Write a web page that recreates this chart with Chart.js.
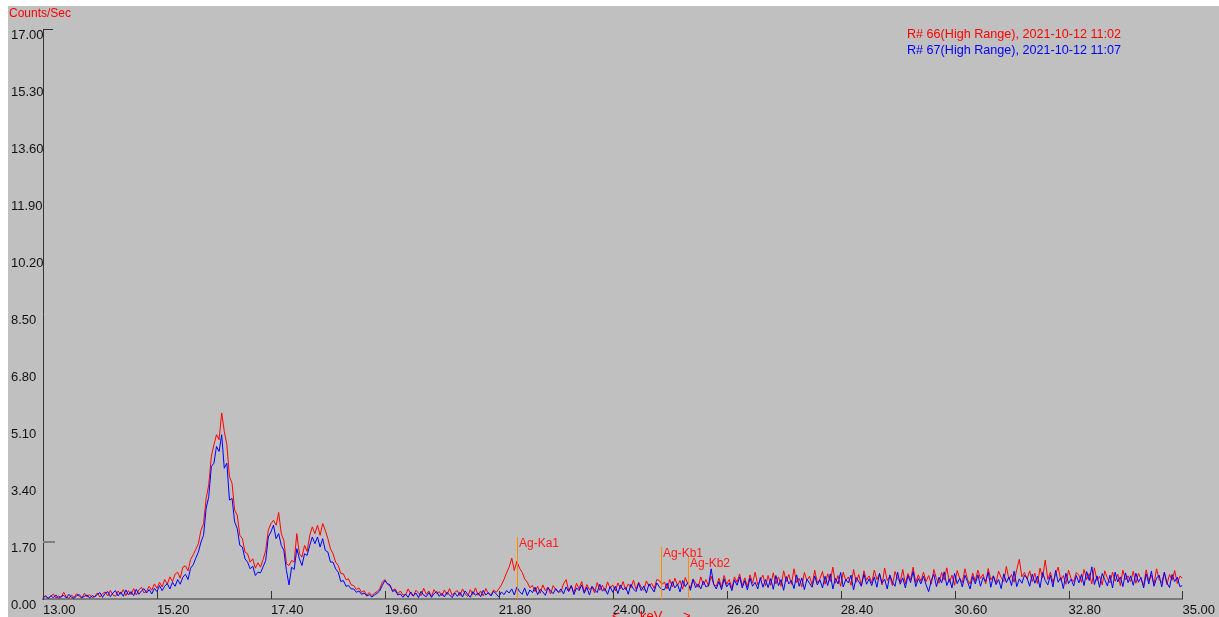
<!DOCTYPE html>
<html>
<head>
<meta charset="utf-8">
<title>XRF spectrum</title>
<script src="https://cdn.jsdelivr.net/npm/chart.js@4/dist/chart.umd.min.js"></script>
<style>
  html, body { margin: 0; padding: 0; background: #ffffff; }
  #wrap { width: 1219px; height: 617px; position: relative; }
  canvas { display: block; }
</style>
</head>
<body>
<div id="wrap"><canvas id="spec" width="1219" height="617"></canvas></div>
<script>
// Channel grid: first channel energy and channel width (keV)
const energyStart = 13.0;
const energyStep = 0.05;

// Run 66 counts/sec, one value per channel, 13.00 .. 35.00 keV
const run66 = [
  0.04,0.10,0.02,0.08,0.15,0.03,0.09,0.05,0.20,0.06,0.02,0.12,0.05,0.16,0.08,0.03,0.17,0.06,0.13,0.04,
  0.08,0.18,0.06,0.16,0.21,0.09,0.26,0.12,0.08,0.24,0.14,0.28,0.10,0.25,0.13,0.31,0.12,0.27,0.35,0.18,
  0.23,0.38,0.26,0.45,0.32,0.50,0.36,0.58,0.44,0.66,0.52,0.74,0.80,0.62,0.95,0.99,0.84,1.18,1.32,1.48,
  1.65,2.05,2.25,3.00,3.40,4.25,4.60,4.90,4.75,5.55,5.00,4.60,3.65,3.45,2.65,2.50,1.90,1.80,1.40,1.35,
  1.10,1.20,0.92,1.08,0.95,1.18,1.45,2.05,2.25,2.35,2.20,2.58,1.95,1.75,1.05,1.00,1.15,1.10,1.95,1.35,
  1.25,1.60,1.42,1.90,2.15,1.95,2.20,1.90,2.25,2.05,1.80,1.50,1.35,1.10,1.00,0.76,0.75,0.58,0.60,0.42,
  0.40,0.28,0.33,0.20,0.25,0.12,0.19,0.10,0.17,0.22,0.30,0.50,0.58,0.44,0.38,0.26,0.30,0.16,0.24,0.12,
  0.12,0.30,0.15,0.08,0.26,0.18,0.10,0.32,0.14,0.24,0.07,0.28,0.16,0.22,0.09,0.27,0.13,0.31,0.11,0.20,
  0.25,0.10,0.30,0.15,0.08,0.28,0.13,0.33,0.11,0.24,0.09,0.31,0.16,0.12,0.27,0.20,0.30,0.42,0.58,0.78,
  0.95,1.22,0.85,1.12,0.92,0.80,0.60,0.50,0.34,0.40,0.22,0.38,0.17,0.42,0.25,0.35,0.15,0.40,0.28,0.20,
  0.22,0.45,0.58,0.25,0.40,0.19,0.47,0.30,0.52,0.21,0.43,0.28,0.36,0.18,0.49,0.26,0.41,0.23,0.51,0.32,
  0.42,0.24,0.48,0.30,0.52,0.27,0.45,0.33,0.56,0.29,0.50,0.36,0.26,0.54,0.38,0.47,0.31,0.58,0.55,0.44,
  0.50,0.30,0.58,0.36,0.62,0.41,0.55,0.29,0.64,0.45,0.33,0.60,0.48,0.35,0.66,0.42,0.58,0.38,0.68,0.44,
  0.38,0.62,0.35,0.70,0.44,0.58,0.32,0.66,0.50,0.75,0.40,0.63,0.36,0.72,0.47,0.80,0.42,0.57,0.71,0.39,
  0.70,0.41,0.78,0.45,0.66,0.38,0.84,0.52,0.73,0.44,0.90,0.49,0.62,0.36,0.79,0.55,0.68,0.42,0.86,0.48,
  0.60,0.82,0.44,0.75,0.52,0.95,0.47,0.70,0.38,0.80,0.55,0.66,0.41,0.88,0.50,0.73,0.39,0.84,0.56,0.69,
  0.48,0.86,0.58,0.74,0.42,0.92,0.55,0.68,0.40,0.82,0.61,0.50,0.88,0.45,0.76,0.57,0.95,0.49,0.72,0.53,
  0.80,0.52,0.70,0.44,0.88,0.60,0.47,0.79,0.56,0.93,0.50,0.71,0.41,0.85,0.62,0.49,0.90,0.58,0.45,0.77,
  0.53,0.86,0.61,0.74,0.45,0.91,0.57,0.69,0.48,0.83,0.64,0.52,0.97,0.58,0.73,0.50,0.88,1.18,0.66,0.79,
  0.60,0.84,0.52,0.77,0.46,0.92,0.63,1.16,0.58,0.80,0.49,0.73,0.95,0.56,0.70,0.44,0.86,0.61,0.52,0.79,
  0.71,0.50,0.88,0.58,0.76,0.45,0.93,0.55,0.68,0.42,0.84,0.62,0.48,0.80,0.53,0.74,0.40,0.86,0.57,0.69,
  0.52,0.83,0.47,0.76,0.60,0.40,0.87,0.54,0.71,0.44,0.90,0.58,0.49,0.79,0.43,0.73,0.56,0.85,0.46,0.68,
  0.62
];

// Run 67 counts/sec, same channel grid
const run67 = [
  0.03,0.09,0.01,0.10,0.04,0.12,0.02,0.07,0.11,0.03,0.14,0.05,0.02,0.10,0.13,0.04,0.08,0.12,0.03,0.10,
  0.06,0.14,0.19,0.05,0.17,0.22,0.07,0.18,0.25,0.09,0.21,0.08,0.27,0.12,0.22,0.10,0.29,0.14,0.24,0.31,
  0.18,0.28,0.15,0.32,0.22,0.40,0.25,0.38,0.46,0.30,0.50,0.38,0.58,0.44,0.65,0.74,0.58,0.92,1.02,1.22,
  1.40,1.70,1.90,2.70,3.05,3.95,4.05,4.55,4.40,4.90,3.90,4.05,2.95,3.00,2.30,2.10,1.60,1.55,1.20,1.10,
  0.90,0.98,0.70,0.80,0.78,0.96,1.15,1.85,2.00,2.20,1.80,1.95,1.60,1.45,0.85,0.42,0.95,0.88,1.50,1.20,
  1.00,1.35,1.30,1.60,1.85,1.65,1.85,1.55,1.80,1.45,1.40,1.10,1.10,0.90,0.80,0.52,0.55,0.38,0.40,0.30,
  0.30,0.20,0.24,0.14,0.18,0.09,0.13,0.06,0.12,0.17,0.24,0.40,0.55,0.46,0.42,0.22,0.26,0.12,0.15,0.05,
  0.15,0.05,0.21,0.09,0.18,0.04,0.23,0.11,0.07,0.19,0.05,0.16,0.22,0.08,0.17,0.06,0.20,0.12,0.04,0.18,
  0.08,0.20,0.06,0.24,0.14,0.05,0.22,0.11,0.18,0.07,0.26,0.12,0.19,0.09,0.23,0.15,0.06,0.21,0.13,0.25,
  0.18,0.30,0.12,0.36,0.22,0.14,0.33,0.10,0.27,0.19,0.35,0.13,0.29,0.21,0.11,0.34,0.24,0.16,0.31,0.20,
  0.30,0.15,0.36,0.22,0.40,0.13,0.33,0.25,0.42,0.17,0.35,0.12,0.38,0.27,0.19,0.44,0.24,0.31,0.14,0.37,
  0.20,0.38,0.16,0.42,0.27,0.35,0.14,0.44,0.30,0.22,0.47,0.25,0.39,0.18,0.45,0.33,0.21,0.48,0.36,0.28,
  0.28,0.47,0.24,0.52,0.33,0.44,0.21,0.55,0.37,0.49,0.26,0.58,0.34,0.45,0.30,0.53,0.36,0.40,0.90,0.43,
  0.30,0.52,0.28,0.60,0.36,0.48,0.25,0.57,0.41,0.66,0.33,0.55,0.27,0.62,0.38,0.50,0.30,0.64,0.35,0.58,
  0.34,0.61,0.29,0.70,0.40,0.58,0.26,0.67,0.45,0.55,0.31,0.72,0.38,0.63,0.28,0.59,0.47,0.35,0.69,0.42,
  0.57,0.33,0.68,0.40,0.75,0.30,0.62,0.45,0.79,0.36,0.58,0.48,0.71,0.27,0.64,0.52,0.38,0.74,0.44,0.60,
  0.40,0.66,0.35,0.77,0.47,0.59,0.30,0.72,0.50,0.38,0.80,0.44,0.63,0.33,0.70,0.49,0.82,0.37,0.61,0.45,
  0.68,0.42,0.22,0.55,0.74,0.37,0.65,0.48,0.81,0.40,0.60,0.33,0.76,0.46,0.62,0.36,0.71,0.52,0.30,0.67,
  0.45,0.72,0.38,0.64,0.52,0.80,0.35,0.69,0.43,0.58,0.31,0.75,0.49,0.66,0.40,0.83,0.37,0.60,0.47,0.71,
  0.62,0.38,0.74,0.47,0.68,0.34,0.79,0.55,0.42,0.71,0.36,0.85,0.50,0.64,0.31,0.77,0.46,0.59,0.39,0.70,
  0.48,0.73,0.40,0.82,0.55,0.96,0.43,0.69,0.35,0.76,0.58,0.39,0.71,0.33,0.80,0.51,0.66,0.37,0.78,0.49,
  0.69,0.41,0.77,0.50,0.64,0.33,0.75,0.45,0.83,0.38,0.62,0.71,0.36,0.80,0.48,0.34,0.73,0.52,0.65,0.37,
  0.40
];

// Axis tick values
const energyTicks = [13.0, 15.2, 17.4, 19.6, 21.8, 24.0, 26.2, 28.4, 30.6, 32.8, 35.0];
const countTicks = [0, 1.7, 3.4, 5.1, 6.8, 8.5, 10.2, 11.9, 13.6, 15.3, 17.0];
// Count levels that carry an inner tick mark
const countTickMarks = [1.7];

// Run captions
const runLabels = [
  'R# 66(High Range), 2021-10-12 11:02',
  'R# 67(High Range), 2021-10-12 11:07'
];

// Element line markers: name, energy (keV), marker height (counts/sec)
const markerNames = ['Ag-Ka1', 'Ag-Kb1', 'Ag-Kb2'];
const markerEnergies = [22.16, 24.94, 25.46];
const markerHeights = [1.85, 1.55, 1.25];

const FONT = '"Liberation Sans", Arial, sans-serif';

function toPoints(values) {
  return values.map((v, i) => ({ x: +(energyStart + i * energyStep).toFixed(2), y: v }));
}

const decorations = {
  id: 'decorations',
  beforeDraw(chart) {
    const ctx = chart.ctx;
    ctx.save();
    ctx.fillStyle = '#ffffff';
    ctx.fillRect(0, 0, chart.width, chart.height);
    ctx.fillStyle = '#c0c0c0';
    ctx.fillRect(8, 6, chart.width - 8, chart.height - 6);
    ctx.restore();
  },
  afterDraw(chart) {
    const ctx = chart.ctx;
    const xs = chart.scales.x;
    const ys = chart.scales.y;
    const area = chart.chartArea;
    ctx.save();

    // cap at the top of the count axis
    ctx.fillStyle = '#333333';
    const topY = Math.round(ys.getPixelForValue(17));
    ctx.fillRect(Math.round(area.left), topY, 10, 1);

    // inner tick marks on the count axis
    ctx.fillStyle = '#7f7f7f';
    countTickMarks.forEach(v => {
      const py = Math.round(ys.getPixelForValue(v));
      ctx.fillRect(Math.round(area.left), py - 1, 12, 2);
    });

    // energy tick marks pointing up from the axis
    ctx.fillStyle = '#333333';
    energyTicks.forEach(v => {
      const px = Math.round(xs.getPixelForValue(v));
      ctx.fillRect(px, Math.round(area.bottom) - 8, 1, 8);
    });

    // element markers
    ctx.font = '12px ' + FONT;
    ctx.textBaseline = 'middle';
    ctx.textAlign = 'left';
    markerNames.forEach((name, i) => {
      const px = Math.round(xs.getPixelForValue(markerEnergies[i]));
      const top = Math.round(ys.getPixelForValue(markerHeights[i]));
      ctx.fillStyle = '#ff8c00';
      ctx.fillRect(px, top, 1, Math.round(area.bottom) - top);
      ctx.fillStyle = '#ff1a1a';
      ctx.fillText(name, px + 2, top + 7);
    });

    // count unit caption
    ctx.fillStyle = '#ff0000';
    ctx.font = '12px ' + FONT;
    ctx.textBaseline = 'middle';
    ctx.fillText('Counts/Sec', 9, 14);

    // run captions
    ctx.font = '12.6px ' + FONT;
    ctx.fillStyle = '#ff0000';
    ctx.fillText(runLabels[0], 907, 35);
    ctx.fillStyle = '#0000ff';
    ctx.fillText(runLabels[1], 907, 51);

    // energy axis caption
    ctx.fillStyle = '#ff0000';
    ctx.font = '13px ' + FONT;
    ctx.textBaseline = 'top';
    ctx.fillText('<', 612, 610);
    ctx.fillText('keV', 640, 610);
    ctx.fillText('>', 683, 610);

    ctx.restore();
  }
};

new Chart(document.getElementById('spec'), {
  type: 'line',
  data: {
    datasets: [
      {
        label: runLabels[1],
        data: toPoints(run67),
        borderColor: '#0000ff',
        borderWidth: 1,
        pointRadius: 0,
        tension: 0,
        order: 0
      },
      {
        label: runLabels[0],
        data: toPoints(run66),
        borderColor: '#ff0000',
        borderWidth: 1,
        pointRadius: 0,
        tension: 0,
        order: 1
      }
    ]
  },
  options: {
    responsive: false,
    animation: false,
    devicePixelRatio: 1,
    layout: { padding: { left: 11, right: 35, top: 29, bottom: 0 } },
    plugins: {
      legend: { display: false },
      tooltip: { enabled: false }
    },
    scales: {
      x: {
        type: 'linear',
        min: 13,
        max: 35,
        afterBuildTicks: s => { s.ticks = energyTicks.map(v => ({ value: v })); },
        afterFit: s => { s.height = 18; },
        grid: { display: false, drawTicks: false },
        border: { display: true, color: '#7a7a7a', width: 2 },
        ticks: {
          align: 'start',
          padding: 4,
          maxRotation: 0,
          autoSkip: false,
          color: '#111111',
          font: { family: FONT, size: 13 },
          callback: v => Number(v).toFixed(2)
        }
      },
      y: {
        type: 'linear',
        min: 0,
        max: 17,
        afterBuildTicks: s => { s.ticks = countTicks.map(v => ({ value: v })); },
        afterFit: s => { s.width = 32; },
        grid: { display: false, drawTicks: false },
        border: { display: true, color: '#333333', width: 1 },
        ticks: {
          crossAlign: 'far',
          labelOffset: 6,
          padding: 0,
          autoSkip: false,
          color: '#111111',
          font: { family: FONT, size: 13 },
          callback: v => Number(v).toFixed(2)
        }
      }
    }
  },
  plugins: [decorations]
});
</script>
</body>
</html>
